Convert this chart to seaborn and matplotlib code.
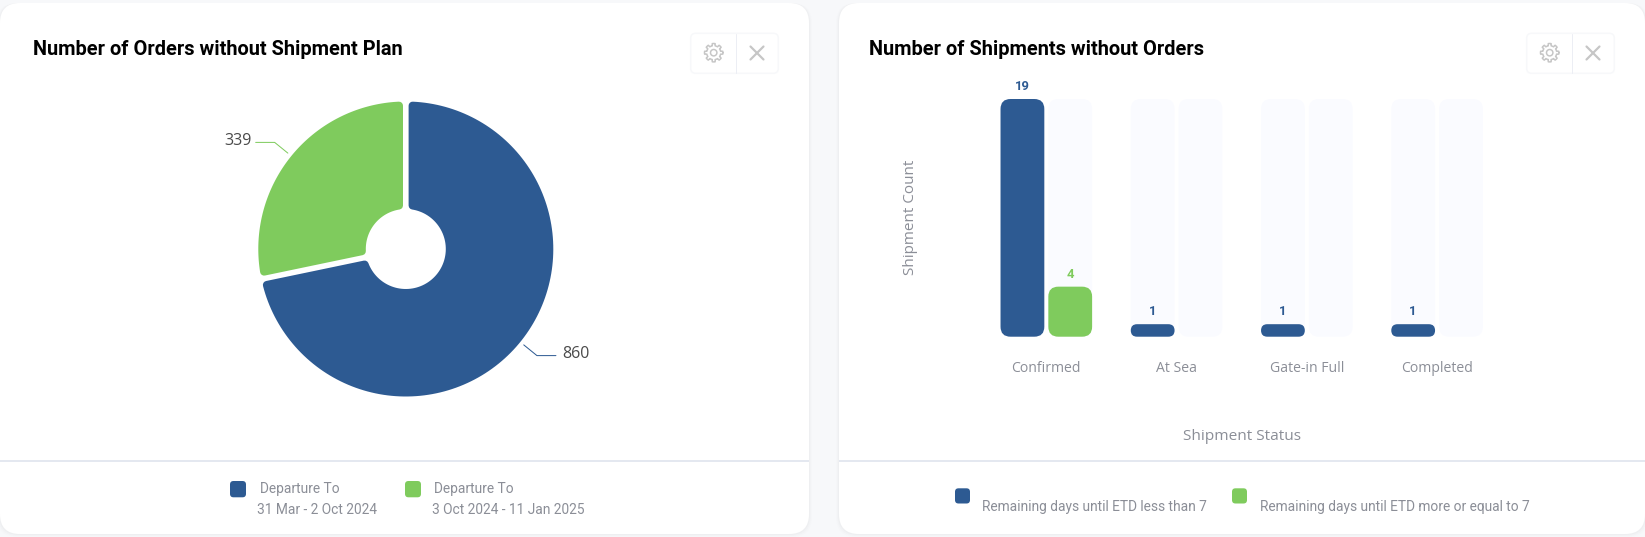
import numpy as np
import pandas as pd
import seaborn as sns
import matplotlib
matplotlib.use("Agg")
import matplotlib.pyplot as plt
from matplotlib.patches import FancyBboxPatch, PathPatch, Circle
from matplotlib.path import Path

# Data
pie_values = [860, 339]
pie_labels = ["860", "339"]
pie_legend_head = ["Departure To", "Departure To"]
pie_legend_sub = ["31 Mar - 2 Oct 2024", "3 Oct 2024 - 11 Jan 2025"]

statuses = ["Confirmed", "At Sea", "Gate-in Full", "Completed"]
series_names = ["Remaining days until ETD less than 7", "Remaining days until ETD more or equal to 7"]
less_than_7 = [19, 1, 1, 1]
more_than_7 = [4, 0, 0, 0]

BLUE = "#2d5a92"
GREEN = "#7fcb5d"
TRACK = "#fafbff"
PAGE = "#f7f8fa"
GREY = "#8b8e97"
W, H = 1645, 537


def pt(px):
    """Font sizes and line widths are read in pixels, matplotlib wants points."""
    return px * 72 / 100


def px_axes(fig, left, top, width, height):
    return fig.add_axes([left / W, 1 - (top + height) / H, width / W, height / H])


def draw_card(bg, x0, x1):
    for grow, alpha in [(3, 0.006), (2, 0.01), (1, 0.015)]:
        bg.add_patch(FancyBboxPatch((x0 - grow, 3), x1 - x0 + 2 * grow, 531 + grow,
                                    boxstyle="round,pad=0,rounding_size=20",
                                    fc="black", ec="none", alpha=alpha))
    bg.add_patch(FancyBboxPatch((x0, 3), x1 - x0, 531, boxstyle="round,pad=0,rounding_size=20",
                                fc="white", ec="none"))
    bg.plot([x0, x1], [460.7, 460.7], color="#e4e8f0", lw=pt(2), solid_capstyle="butt")


def draw_buttons(bg, dx):
    bg.add_patch(FancyBboxPatch((690.7 + dx, 33.3), 87.6, 40, boxstyle="round,pad=0,rounding_size=5",
                                fc="white", ec="#f7f8fa", lw=pt(1.5)))
    bg.plot([735.7 + dx, 735.7 + dx], [34, 72.5], color="#eceef4", lw=pt(1))
    # gear outline, eight square teeth
    cx, cy = 713.7 + dx, 52.7
    angles = np.radians(np.arange(0, 361, 3))
    radius = np.where(np.cos(8 * angles) > -0.1, 9.2, 7.0)
    bg.plot(cx + radius * np.cos(angles), cy + radius * np.sin(angles), color="#c6c6c6", lw=pt(1.5))
    bg.add_patch(Circle((cx, cy), 3.2, fc="none", ec="#c6c6c6", lw=pt(1.5)))
    # close cross
    xc, yc = 757 + dx, 53
    bg.plot([xc - 6.5, xc + 6.5], [yc - 6.5, yc + 6.5], color="#c6c6c6", lw=pt(2.2))
    bg.plot([xc - 6.5, xc + 6.5], [yc + 6.5, yc - 6.5], color="#c6c6c6", lw=pt(2.2))


def legend_swatch(bg, x, y, w, h, color):
    bg.add_patch(FancyBboxPatch((x, y), w, h, boxstyle="round,pad=0,rounding_size=3.5", fc=color, ec="none"))


def sector_path(theta1, theta2, outer, inner, half_gap):
    """Ring sector whose straight edges stay parallel to the gap between slices."""
    t1, t2 = np.radians(theta1), np.radians(theta2)
    a = np.linspace(t1 + np.arcsin(half_gap / outer), t2 - np.arcsin(half_gap / outer), 160)
    b = np.linspace(t2 - np.arcsin(half_gap / inner), t1 + np.arcsin(half_gap / inner), 80)
    xs = np.r_[outer * np.cos(a), inner * np.cos(b)]
    ys = np.r_[outer * np.sin(a), inner * np.sin(b)]
    verts = np.c_[xs, ys]
    return Path(np.vstack([verts, verts[0]]), closed=True)


def draw_donut(fig):
    cx, cy, radius, hole = 405.8, 249.0, 147.5, 40.0
    box = 170
    ax = px_axes(fig, cx - box, cy - box, 2 * box, 2 * box)
    wedges, _ = ax.pie(pie_values, colors=[BLUE, GREEN], startangle=90, counterclock=False, radius=radius)
    ax.set_xlim(-box, box)
    ax.set_ylim(-box, box)
    ax.set_aspect("equal")
    corner = 4.0
    for wedge, color, label in zip(wedges, [BLUE, GREEN], pie_labels):
        wedge.set_visible(False)
        path = sector_path(wedge.theta1, wedge.theta2, radius - corner, hole + corner, 2.8 + corner)
        ax.add_patch(PathPatch(path, fc=color, ec=color, lw=pt(2 * corner), joinstyle="round", clip_on=False))
        # leader line and value, placed from the slice's mid angle
        mid = np.radians((wedge.theta1 + wedge.theta2) / 2)
        x0, y0 = 152 * np.cos(mid), 152 * np.sin(mid)
        x1, y1 = 169 * np.cos(mid), 169 * np.sin(mid)
        side = np.sign(np.cos(mid))
        x2 = x1 + side * 19
        text_gap = 6.5 if side > 0 else 3.5
        ax.plot([x0, x1, x2], [y0, y1, y1], color=color, lw=pt(1), clip_on=False)
        ax.text(x2 + side * text_gap, y1 + 1.5, label, color="#4a4a4a", fontsize=pt(16), family="Open Sans",
                ha="left" if side > 0 else "right", va="center", clip_on=False)


def round_bars(ax, y_per_x):
    """seaborn draws square bars, swap each one for a rounded box of the same size."""
    for bar in list(ax.patches):
        x, y, w, h = bar.get_x(), bar.get_y(), bar.get_width(), bar.get_height()
        if h <= 0:
            bar.remove()
            continue
        rounding = min(0.0767, h / y_per_x / 2)
        ax.add_patch(FancyBboxPatch((x, y), w, h, boxstyle=f"round,pad=0,rounding_size={rounding}",
                                    mutation_aspect=y_per_x, fc=bar.get_facecolor(), ec="none",
                                    zorder=bar.get_zorder(), clip_on=False))
        bar.remove()


def draw_bars(fig):
    left, width, top, height = 981.2, 521.0, 99.0, 237.7
    ax = px_axes(fig, left, top, width, height)
    ax.patch.set_alpha(0)
    data = pd.DataFrame({
        "status": statuses * 2,
        "series": [series_names[0]] * 4 + [series_names[1]] * 4,
        "count": less_than_7 + more_than_7,
        "track": [max(less_than_7)] * 8,
    })
    sns.barplot(data=data, x="status", y="track", hue="series", palette=[TRACK, TRACK], width=0.734,
                gap=0.084, dodge=True, legend=False, saturation=1, ax=ax, zorder=1)
    sns.barplot(data=data, x="status", y="count", hue="series", palette=[BLUE, GREEN], width=0.734,
                gap=0.084, dodge=True, legend=False, saturation=1, ax=ax, zorder=2)
    ax.set_xlim(-0.5, 3.5)
    ax.set_ylim(0, max(less_than_7))
    y_per_x = (max(less_than_7) / height) / (4 / width)
    round_bars(ax, y_per_x)

    slot = 0.734 / 2
    for i, status in enumerate(statuses):
        for j, (values, color) in enumerate([(less_than_7, BLUE), (more_than_7, GREEN)]):
            if values[i] > 0:
                ax.annotate(str(values[i]), (i + (j - 0.5) * slot, values[i]), xytext=(0, pt(12.5)),
                            textcoords="offset points", ha="center", va="center", color=color,
                            fontsize=pt(13), fontweight="bold", family="Roboto", annotation_clip=False)

    sns.despine(ax=ax, left=True, bottom=True)
    ax.set_yticks([])
    ax.tick_params(axis="x", length=0, pad=pt(24))
    for tick in ax.get_xticklabels():
        tick.set_color(GREY)
        tick.set_fontsize(pt(14))
        tick.set_family("Open Sans")
    ax.set_xlabel("Shipment Status", color=GREY, fontsize=pt(15.4), family="Open Sans")
    ax.xaxis.set_label_coords(0.5, (99 + 237.7 - 436) / height, transform=ax.transAxes)
    ax.xaxis.label.set_va("center")
    ax.set_ylabel("Shipment Count", color=GREY, fontsize=pt(15.3), family="Open Sans")
    ax.yaxis.set_label_coords((911 - left) / width, (336.7 - 217) / height, transform=ax.transAxes)
    ax.yaxis.label.set_va("center")


def main():
    sns.set_theme(style="white")
    plt.rcParams["font.family"] = ["Roboto", "DejaVu Sans"]
    fig = plt.figure(figsize=(W / 100, H / 100), dpi=100, facecolor=PAGE)
    bg = fig.add_axes([0, 0, 1, 1])
    bg.set_xlim(0, W)
    bg.set_ylim(H, 0)
    bg.axis("off")

    draw_card(bg, 0, 809)
    draw_card(bg, 839, 1645)
    draw_buttons(bg, 0)
    draw_buttons(bg, 836)

    bg.text(33, 49.5, "Number of Orders without Shipment Plan", fontsize=pt(20), fontweight="bold",
            color="black", va="center", family="Roboto")
    bg.text(869, 49.5, "Number of Shipments without Orders", fontsize=pt(20), fontweight="bold",
            color="black", va="center", family="Roboto")

    # legends
    legend_swatch(bg, 230, 481, 16, 16.3, BLUE)
    legend_swatch(bg, 405, 481, 16, 16.3, GREEN)
    for x_head, x_sub, head, sub in zip([259.7, 434.3], [256.7, 432], pie_legend_head, pie_legend_sub):
        bg.text(x_head, 488.8, head, fontsize=pt(13.75), color=GREY, va="center", family="Roboto")
        bg.text(x_sub, 509.8, sub, fontsize=pt(13.75), color=GREY, va="center", family="Roboto")

    legend_swatch(bg, 955, 488.3, 15, 15.2, BLUE)
    legend_swatch(bg, 1232, 488.3, 15, 15.2, GREEN)
    for x_text, name in zip([982, 1259.5], series_names):
        bg.text(x_text, 506.8, name, fontsize=pt(13.75), color=GREY, va="center", family="Roboto")

    draw_donut(fig)
    draw_bars(fig)

    fig.savefig("out.png", dpi=100, facecolor=PAGE)


if __name__ == "__main__":
    main()
